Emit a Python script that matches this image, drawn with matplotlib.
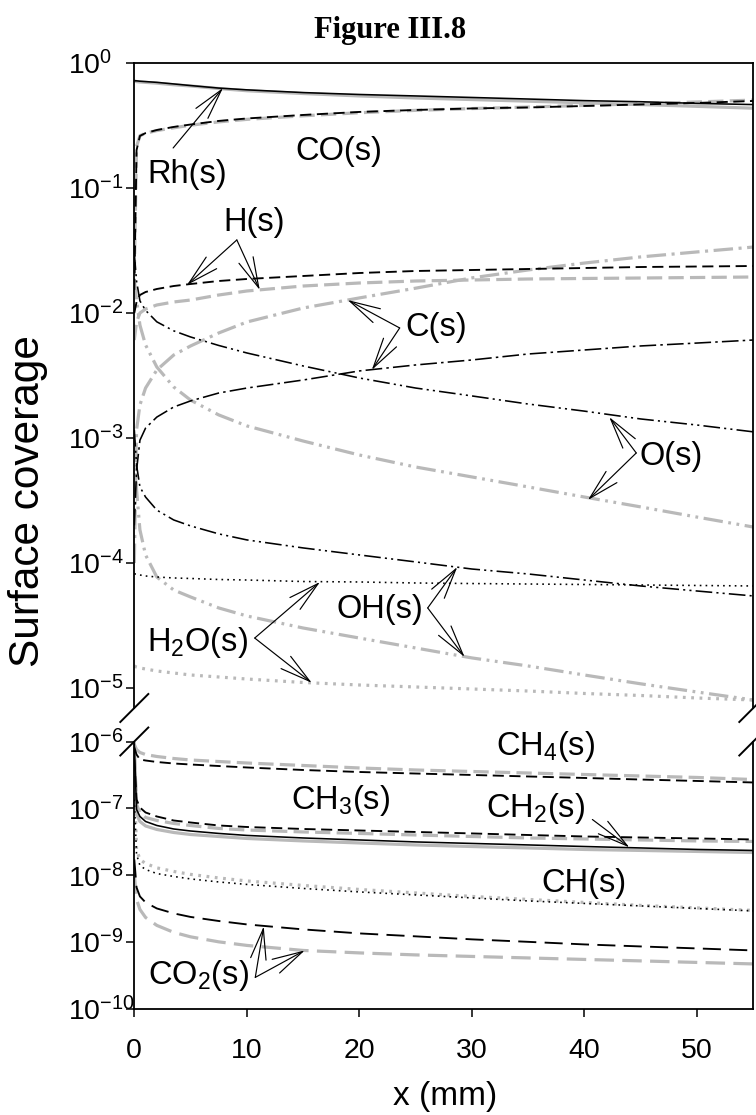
import math
import matplotlib
matplotlib.use('Agg')
import matplotlib.pyplot as plt
from matplotlib.ticker import FixedLocator, NullLocator, FuncFormatter

plt.rcParams['font.family'] = ['Liberation Sans', 'DejaVu Sans']
plt.rcParams['mathtext.fontset'] = 'custom'
plt.rcParams['mathtext.rm'] = 'Liberation Sans'
plt.rcParams['mathtext.it'] = 'Liberation Sans:italic'
plt.rcParams['mathtext.bf'] = 'Liberation Sans:bold'
plt.rcParams['lines.scale_dashes'] = False

# ---------------- data ----------------
x_mm = [0, 0.2, 0.5, 1, 2, 3.5, 5, 7.5, 10, 15, 20, 25, 30, 35, 40, 45, 50, 55]

rh_black = [0.72, 0.72, 0.715, 0.71, 0.70, 0.68, 0.66, 0.63, 0.61, 0.58, 0.56, 0.545, 0.53, 0.515, 0.50, 0.49, 0.475, 0.465]
rh_gray = [0.72, 0.71, 0.705, 0.70, 0.69, 0.67, 0.655, 0.625, 0.60, 0.57, 0.545, 0.525, 0.51, 0.495, 0.48, 0.465, 0.45, 0.435]
co_black = [0.0153, 0.201, 0.261, 0.275, 0.291, 0.308, 0.322, 0.344, 0.360, 0.384, 0.406, 0.421, 0.433, 0.441, 0.453, 0.466, 0.479, 0.497]
co_gray = [0.02, 0.215, 0.262, 0.274, 0.288, 0.303, 0.318, 0.338, 0.354, 0.378, 0.40, 0.418, 0.432, 0.444, 0.458, 0.472, 0.488, 0.505]
h_black = [0.0100, 0.01225, 0.01393, 0.01472, 0.01556, 0.01644, 0.01706, 0.01803, 0.01871, 0.01977, 0.02089, 0.02168, 0.02208, 0.02249, 0.02291, 0.02333, 0.02354, 0.02377]
h_gray = [0.00608, 0.00847, 0.0100, 0.01076, 0.01159, 0.01225, 0.0127, 0.01393, 0.0150, 0.01644, 0.01738, 0.01803, 0.01837, 0.01871, 0.01889, 0.01905, 0.01923, 0.01941]
c_black = [2.0e-4, 5.5e-4, 9.6e-4, 1.2e-3, 1.47e-3, 1.77e-3, 1.98e-3, 2.29e-3, 2.51e-3, 2.91e-3, 3.44e-3, 3.84e-3, 4.21e-3, 4.70e-3, 5.06e-3, 5.45e-3, 5.75e-3, 6.08e-3]
c_gray = [1.0e-4, 1.16e-3, 1.84e-3, 2.51e-3, 3.50e-3, 4.61e-3, 5.45e-3, 6.92e-3, 8.47e-3, 0.01096, 0.0132, 0.0158, 0.0191, 0.0221, 0.0251, 0.0281, 0.0308, 0.0337]
o_black = [0.030, 0.018, 0.0125, 0.0105, 8.5e-3, 7.2e-3, 6.43e-3, 5.5e-3, 4.79e-3, 3.77e-3, 3.02e-3, 2.51e-3, 2.17e-3, 1.87e-3, 1.64e-3, 1.42e-3, 1.27e-3, 1.12e-3]
o_gray = [0.01837, 0.0127, 8.0e-3, 5.55e-3, 3.70e-3, 2.56e-3, 2.01e-3, 1.53e-3, 1.25e-3, 9.46e-4, 7.31e-4, 5.86e-4, 4.88e-4, 4.06e-4, 3.37e-4, 2.81e-4, 2.33e-4, 1.94e-4]
oh_black = [1.16e-3, 6.08e-4, 4.06e-4, 3.37e-4, 2.65e-4, 2.21e-4, 1.98e-4, 1.71e-4, 1.53e-4, 1.32e-4, 1.16e-4, 1.02e-4, 8.95e-5, 8.17e-5, 7.31e-5, 6.55e-5, 5.97e-5, 5.45e-5]
oh_gray = [9.64e-4, 3.84e-4, 1.84e-4, 1.16e-4, 7.73e-5, 6.08e-5, 5.35e-5, 4.37e-5, 3.77e-5, 3.02e-5, 2.51e-5, 2.09e-5, 1.74e-5, 1.50e-5, 1.27e-5, 1.08e-5, 9.29e-6, 8.02e-6]
h2o_black = [8.17e-5, 8.17e-5, 8.02e-5, 7.87e-5, 7.73e-5, 7.59e-5, 7.52e-5, 7.38e-5, 7.31e-5, 7.11e-5, 7.05e-5, 6.92e-5, 6.85e-5, 6.79e-5, 6.73e-5, 6.67e-5, 6.61e-5, 6.55e-5]
h2o_gray = [1.50e-5, 1.47e-5, 1.445e-5, 1.419e-5, 1.368e-5, 1.318e-5, 1.271e-5, 1.225e-5, 1.180e-5, 1.107e-5, 1.057e-5, 1.019e-5, 9.82e-6, 9.46e-6, 9.04e-6, 8.71e-6, 8.32e-6, 8.02e-6]

ch4_black = [8.13e-7, 6.39e-7, 5.38e-7, 5.20e-7, 4.94e-7, 4.69e-7, 4.53e-7, 4.30e-7, 4.09e-7, 3.75e-7, 3.50e-7, 3.32e-7, 3.16e-7, 3.00e-7, 2.85e-7, 2.70e-7, 2.57e-7, 2.44e-7]
ch4_gray = [9.02e-7, 7.59e-7, 6.85e-7, 6.39e-7, 5.97e-7, 5.57e-7, 5.29e-7, 5.02e-7, 4.77e-7, 4.38e-7, 4.02e-7, 3.75e-7, 3.56e-7, 3.38e-7, 3.21e-7, 3.05e-7, 2.90e-7, 2.70e-7]
ch3_black = [5.38e-7, 1.36e-7, 1.03e-7, 8.68e-8, 7.57e-8, 6.59e-8, 6.15e-8, 5.55e-8, 5.27e-8, 4.92e-8, 4.67e-8, 4.44e-8, 4.22e-8, 4.00e-8, 3.80e-8, 3.67e-8, 3.55e-8, 3.43e-8]
ch3_gray = [6.39e-7, 1.14e-7, 8.68e-8, 7.31e-8, 6.59e-8, 5.95e-8, 5.55e-8, 5.01e-8, 4.75e-8, 4.44e-8, 4.22e-8, 4.00e-8, 3.80e-8, 3.61e-8, 3.49e-8, 3.37e-8, 3.26e-8, 3.20e-8]
ch2_black = [9.02e-7, 9.63e-8, 7.57e-8, 6.37e-8, 5.55e-8, 4.92e-8, 4.59e-8, 4.22e-8, 3.94e-8, 3.61e-8, 3.37e-8, 3.15e-8, 2.99e-8, 2.84e-8, 2.69e-8, 2.56e-8, 2.43e-8, 2.35e-8]
ch2_gray = [1.0e-6, 8.11e-8, 6.37e-8, 5.46e-8, 4.84e-8, 4.36e-8, 4.07e-8, 3.80e-8, 3.55e-8, 3.26e-8, 3.04e-8, 2.84e-8, 2.69e-8, 2.56e-8, 2.43e-8, 2.35e-8, 2.27e-8, 2.19e-8]
ch_black = [1.36e-7, 2.05e-8, 1.40e-8, 1.22e-8, 1.06e-8, 9.60e-9, 8.81e-9, 7.94e-9, 7.29e-9, 6.35e-9, 5.63e-9, 5.08e-9, 4.58e-9, 4.13e-9, 3.79e-9, 3.48e-9, 3.19e-9, 2.93e-9]
ch_gray = [2.70e-7, 2.43e-8, 1.72e-8, 1.50e-8, 1.29e-8, 1.14e-8, 1.03e-8, 9.11e-9, 8.22e-9, 7.04e-9, 6.13e-9, 5.44e-9, 4.82e-9, 4.35e-9, 3.92e-9, 3.54e-9, 3.25e-9, 2.98e-9]
co2_black = [1.72e-8, 6.57e-9, 4.82e-9, 3.92e-9, 3.19e-9, 2.69e-9, 2.38e-9, 2.07e-9, 1.84e-9, 1.55e-9, 1.35e-9, 1.22e-9, 1.10e-9, 1.01e-9, 9.24e-10, 8.62e-10, 8.05e-10, 7.51e-10]
co2_gray = [1.03e-8, 4.35e-9, 3.08e-9, 2.34e-9, 1.78e-9, 1.40e-9, 1.20e-9, 1.01e-9, 8.93e-10, 7.51e-10, 6.90e-10, 6.44e-10, 6.11e-10, 5.80e-10, 5.51e-10, 5.24e-10, 4.97e-10, 4.72e-10]

upper_decades = [0, -1, -2, -3, -4, -5]
lower_decades = [-6, -7, -8, -9, -10]
x_ticks = [0, 10, 20, 30, 40, 50]

# ---------------- figure / axes ----------------
W, H = 756, 1115
fig = plt.figure(figsize=(W / 100, H / 100), dpi=100)
L, R = 134.3, 753.3
up_top, up_bot = 63.0, 708.0
lo_top, lo_bot = 741.5, 1009.0
ax_u = fig.add_axes([L / W, 1 - up_bot / H, (R - L) / W, (up_bot - up_top) / H])
ax_l = fig.add_axes([L / W, 1 - lo_bot / H, (R - L) / W, (lo_bot - lo_top) / H])

GRAY = '#b9b9b9'
LW_G, LW_K = 2.3, 1.15

styles = {
    'solid_k': dict(color='k', lw=LW_K),
    'solid_g': dict(color=GRAY, lw=LW_G),
    'dash_k': dict(color='k', lw=LW_K + 0.2, dashes=(8, 4)),
    'dash_g': dict(color=GRAY, lw=LW_G, dashes=(11, 4.5)),
    'dashL_k': dict(color='k', lw=LW_K + 0.2, dashes=(13, 6)),
    'dashL_g': dict(color=GRAY, lw=LW_G, dashes=(14, 6)),
    'dd_k': dict(color='k', lw=LW_K, dashes=(12, 3, 1.8, 3)),
    'dd_g': dict(color=GRAY, lw=LW_G, dashes=(14, 4, 2.2, 4)),
    'ddd_k': dict(color='k', lw=LW_K, dashes=(12, 3, 1.5, 3, 1.5, 3)),
    'ddd_g': dict(color=GRAY, lw=LW_G, dashes=(14, 4, 2, 4, 2, 4)),
    'dot_k': dict(color='k', lw=LW_K, dashes=(1.2, 3.0)),
    'dot_g': dict(color=GRAY, lw=LW_G, dashes=(2.0, 4.0)),
}

upper_series = [
    (rh_gray, 'solid_g'), (co_gray, 'dash_g'), (h_gray, 'dash_g'),
    (c_gray, 'dd_g'), (o_gray, 'ddd_g'), (oh_gray, 'ddd_g'), (h2o_gray, 'dot_g'),
    (rh_black, 'solid_k'), (co_black, 'dash_k'), (h_black, 'dash_k'),
    (c_black, 'dd_k'), (o_black, 'ddd_k'), (oh_black, 'ddd_k'), (h2o_black, 'dot_k'),
]
lower_series = [
    (ch4_gray, 'dash_g'), (ch3_gray, 'dash_g'), (ch2_gray, 'solid_g'),
    (ch_gray, 'dot_g'), (co2_gray, 'dashL_g'),
    (ch4_black, 'dash_k'), (ch3_black, 'dash_k'), (ch2_black, 'solid_k'),
    (ch_black, 'dot_k'), (co2_black, 'dashL_k'),
]
for vals, st in upper_series:
    ax_u.plot(x_mm, vals, **styles[st])
for vals, st in lower_series:
    ax_l.plot(x_mm, vals, **styles[st])

fmt = FuncFormatter(lambda v, p: r'$\mathdefault{10^{%d}}$' % round(math.log10(v)))
for ax, dec, lims in [(ax_u, upper_decades, (10 ** -5.16, 1.0)), (ax_l, lower_decades, (1e-10, 1e-6))]:
    ax.set_yscale('log')
    ax.set_xlim(0, 55)
    ax.set_ylim(*lims)
    ax.yaxis.set_major_locator(FixedLocator([10.0 ** d for d in dec]))
    ax.yaxis.set_minor_locator(NullLocator())
    ax.yaxis.set_major_formatter(fmt)
    ax.xaxis.set_minor_locator(NullLocator())
    for s in ax.spines.values():
        s.set_linewidth(1.3)
    ax.tick_params(axis='y', which='major', direction='out', length=5.8, width=1.1,
                   labelsize=20.5, pad=42, right=False)
ax_u.spines['bottom'].set_visible(False)
ax_l.spines['top'].set_visible(False)
ax_u.tick_params(axis='x', bottom=False, labelbottom=False, top=False)
ax_l.set_xticks(x_ticks)
ax_l.tick_params(axis='x', direction='out', length=5.8, width=1.1, labelsize=20.5, pad=15, top=False)
for ax in (ax_u, ax_l):
    for lab in ax.get_yticklabels():
        lab.set_horizontalalignment('left')

# break marks
dpx = 14.0
for ax, yb, hpx in [(ax_u, 0.0, up_bot - up_top), (ax_l, 1.0, lo_bot - lo_top)]:
    dx = dpx / (R - L)
    dy = dpx / hpx
    for xb in (0.0, 1.0):
        ax.plot([xb - dx, xb + dx], [yb - dy, yb + dy], transform=ax.transAxes,
                color='k', lw=1.4, clip_on=False)

# ---------------- annotations ----------------
FS = 23.5
AP = dict(arrowstyle='->,head_length=1.1,head_width=0.28', lw=0.85, color='k',
          shrinkA=0, shrinkB=0, mutation_scale=20)

def label(ax, x, y, s):
    ax.text(x, y, s, fontsize=FS, ha='center', va='baseline')

def arrows(ax, start, tips):
    for t in tips:
        ax.annotate('', xy=t, xytext=start, arrowprops=AP)

label(ax_u, 4.68, 0.1096, 'Rh(s)')
arrows(ax_u, (3.45, 0.209), [(7.88, 0.631)])
label(ax_u, 18.16, 0.1675, 'CO(s)')
label(ax_u, 10.62, 0.0453, 'H(s)')
arrows(ax_u, (9.11, 0.0384), [(4.68, 0.01675), (11.15, 0.01528)])
label(ax_u, 26.86, 6.55e-3, 'C(s)')
arrows(ax_u, (23.58, 7.59e-3), [(18.96, 0.0127), (21.1, 3.50e-3)])
label(ax_u, 47.7, 6.08e-4, 'O(s)')
arrows(ax_u, (44.6, 7.59e-4), [(42.2, 1.47e-3), (40.3, 3.19e-4)])
label(ax_u, 21.8, 3.63e-5, 'OH(s)')
arrows(ax_u, (26.07, 4.37e-5), [(28.7, 9.29e-5), (29.35, 1.77e-5)])
label(ax_u, 5.57, 1.98e-5, r'H$_2$O(s)')
arrows(ax_u, (10.7, 2.51e-5), [(16.5, 7.05e-5), (15.77, 1.10e-5)])

label(ax_l, 36.5, 6.39e-7, r'CH$_4$(s)')
label(ax_l, 18.34, 9.63e-8, r'CH$_3$(s)')
label(ax_l, 35.64, 7.31e-8, r'CH$_2$(s)')
arrows(ax_l, (40.7, 6.82e-8), [(43.99, 2.61e-8)])
label(ax_l, 39.99, 5.53e-9, 'CH(s)')
label(ax_l, 5.66, 2.33e-10, r'CO$_2$(s)')
arrows(ax_l, (10.75, 2.97e-10), [(11.5, 1.72e-9), (15.15, 7.52e-10)])

# ---------------- titles ----------------
fig.text(390 / W, 1 - 38 / H, 'Figure III.8', ha='center', va='baseline',
         fontsize=22, fontweight='bold', family=['Liberation Serif', 'DejaVu Serif'])
fig.text(28 / W, 1 - 501 / H, 'Surface coverage', rotation=90, ha='center', va='center', fontsize=30.5)
fig.text(445 / W, 1 - 1097 / H, 'x (mm)', ha='center', va='center', fontsize=24)

fig.savefig('out.png', dpi=100)
